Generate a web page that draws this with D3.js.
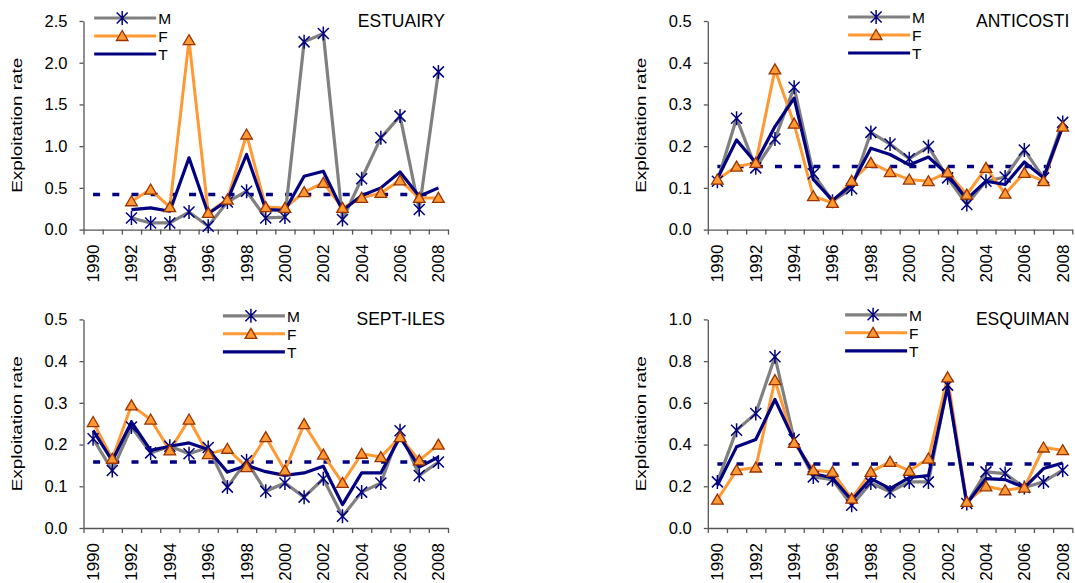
<!DOCTYPE html>
<html><head><meta charset="utf-8">
<script src="https://cdn.jsdelivr.net/npm/d3@7"></script>
<style>
body{margin:0;background:#fff;}
svg{display:block;font-family:"Liberation Sans",Arial,sans-serif;}
</style></head>
<body>
<svg id="chart" width="1075" height="583"></svg>
<script>
const years = d3.range(1990, 2009);
const yearLabels = years.filter(y => y % 2 === 0);
const seriesNames = ["M", "F", "T"];

// ESTUAIRY
const estM = [null,null,0.14,0.08,0.08,0.21,0.04,0.33,0.46,0.14,0.15,2.25,2.35,0.12,0.61,1.10,1.36,0.24,1.89];
const estF = [null,null,0.34,0.48,0.27,2.27,0.20,0.36,1.14,0.27,0.26,0.45,0.56,0.26,0.38,0.44,0.59,0.38,0.38];
const estT = [null,null,0.24,0.26,0.22,0.86,0.19,0.35,0.90,0.24,0.23,0.64,0.70,0.23,0.41,0.50,0.69,0.40,0.50];
const estMean = 0.42;
const estTicks = [0,0.5,1.0,1.5,2.0,2.5];

// ANTICOSTI
const antM = [0.116,0.267,0.148,0.217,0.341,0.134,0.068,0.098,0.233,0.205,0.170,0.199,0.124,0.060,0.116,0.126,0.191,0.124,0.257];
const antF = [0.120,0.151,0.160,0.384,0.254,0.080,0.064,0.117,0.160,0.138,0.120,0.116,0.137,0.084,0.148,0.086,0.136,0.116,0.247];
const antT = [0.122,0.215,0.160,0.247,0.315,0.120,0.070,0.108,0.195,0.180,0.155,0.174,0.132,0.073,0.116,0.108,0.162,0.124,0.247];
const antMean = 0.151;
const antTicks = [0,0.1,0.2,0.3,0.4,0.5];

// SEPT-ILES
const sepM = [0.214,0.138,0.242,0.180,0.196,0.178,0.193,0.098,0.161,0.088,0.108,0.074,0.118,0.028,0.086,0.108,0.233,0.126,0.158];
const sepF = [0.254,0.166,0.294,0.260,0.186,0.260,0.177,0.190,0.146,0.218,0.138,0.249,0.176,0.108,0.178,0.170,0.218,0.162,0.200];
const sepT = [0.234,0.161,0.254,0.186,0.196,0.204,0.188,0.134,0.150,0.135,0.126,0.132,0.148,0.056,0.132,0.132,0.218,0.146,0.170];
const sepMean = 0.158;
const sepTicks = [0,0.1,0.2,0.3,0.4,0.5];

// ESQUIMAN
const esqM = [0.221,0.469,0.549,0.821,0.424,0.245,0.232,0.109,0.216,0.173,0.221,0.221,0.685,0.117,0.269,0.261,0.194,0.221,0.277];
const esqF = [0.136,0.277,0.290,0.709,0.408,0.277,0.269,0.141,0.269,0.317,0.274,0.333,0.722,0.125,0.200,0.181,0.194,0.386,0.373];
const esqT = [0.205,0.389,0.424,0.616,0.420,0.261,0.240,0.133,0.237,0.189,0.242,0.251,0.677,0.117,0.237,0.232,0.194,0.285,0.312];
const esqMean = 0.307;
const esqTicks = [0,0.2,0.4,0.6,0.8,1.0];

const panels = [
  {title:"ESTUAIRY",  M:estM, F:estF, T:estT, mean:estMean, ticks:estTicks, left:83.5,  top:21,    legX:10.7,  legY:-3.0},
  {title:"ANTICOSTI", M:antM, F:antF, T:antT, mean:antMean, ticks:antTicks, left:707.8, top:21,    legX:140.3, legY:-4.0},
  {title:"SEPT-ILES", M:sepM, F:sepF, T:sepT, mean:sepMean, ticks:sepTicks, left:83.5,  top:319.4, legX:139.4, legY:-3.6},
  {title:"ESQUIMAN",  M:esqM, F:esqF, T:esqT, mean:esqMean, ticks:esqTicks, left:707.8, top:319.4, legX:137.3, legY:-4.6}
];

const PW = 364.5, PH = 208.6;
const colM = "#808080", colF = "#FF9933", colT = "#000080", markStroke = "#000080", triStroke = "#993300";
const starPath = "M-5.5,-5.5L5.5,5.5M-5.5,5.5L5.5,-5.5M0,-7L0,7";
const triPath = "M0,-5.5L5.8,4.5L-5.8,4.5Z";

const svg = d3.select("#chart");

panels.forEach(p => {
  const g = svg.append("g");
  const x0 = p.left, x1 = p.left + PW, y0 = p.top, y1 = p.top + PH;
  const band = d3.scaleBand().domain(years).range([x0, x1]).padding(0);
  const cx = d => band(d) + band.bandwidth() / 2;
  const yMax = p.ticks[p.ticks.length - 1];
  const y = d3.scaleLinear().domain([0, yMax]).range([y1, y0]);

  // y axis
  const ya = g.append("g").attr("transform", `translate(${x0},0)`)
    .call(d3.axisLeft(y).tickValues(p.ticks).tickFormat(d3.format(".1f")).tickSize(4).tickSizeOuter(0).tickPadding(12));
  ya.selectAll("path,line").attr("stroke", "#555").attr("stroke-width", 1.3);
  ya.selectAll("text").attr("font-size", 16.5).attr("fill", "#000").attr("font-family", "Liberation Sans, Arial");

  // x axis (ticks at category boundaries)
  const xb = d3.scaleLinear().domain([0, years.length]).range([x0, x1]);
  const xa = g.append("g").attr("transform", `translate(0,${y1})`)
    .call(d3.axisBottom(xb).tickValues(d3.range(0, years.length + 1)).tickSize(5).tickSizeOuter(0).tickFormat(""));
  xa.selectAll("path,line").attr("stroke", "#555").attr("stroke-width", 1.3);

  g.selectAll("text.xl").data(yearLabels).join("text").attr("class", "xl")
    .attr("transform", d => `translate(${cx(d)},${y1 + 15}) rotate(-90)`)
    .attr("text-anchor", "end").attr("dy", "0.35em")
    .attr("font-size", 17).attr("fill", "#000").text(d => d);

  // y title
  g.append("text")
    .attr("transform", `translate(${x0 - 62},${(y0 + y1) / 2}) rotate(-90)`)
    .attr("text-anchor", "middle").attr("font-size", 14.5).attr("fill", "#000")
    .attr("textLength", 135).attr("lengthAdjust", "spacingAndGlyphs")
    .text("Exploitation rate");

  // panel title
  g.append("text").attr("x", x1 - 3).attr("y", y0 + 5.7).attr("text-anchor", "end")
    .attr("font-size", 17.5).attr("fill", "#000").text(p.title);

  // mean dashed line
  g.append("line")
    .attr("x1", cx(years[0])).attr("x2", cx(years[years.length - 1]))
    .attr("y1", y(p.mean)).attr("y2", y(p.mean))
    .attr("stroke", colT).attr("stroke-width", 3.5).attr("stroke-dasharray", "7,12.2");

  const line = d3.line().defined(d => d[1] != null).x(d => cx(d[0])).y(d => y(d[1]));
  const pts = arr => years.map((yr, i) => [yr, arr[i]]);

  g.append("path").datum(pts(p.M)).attr("d", line).attr("fill", "none").attr("stroke", colM).attr("stroke-width", 3.2).attr("stroke-linejoin", "round");
  g.append("path").datum(pts(p.F)).attr("d", line).attr("fill", "none").attr("stroke", colF).attr("stroke-width", 3).attr("stroke-linejoin", "round");
  g.append("path").datum(pts(p.T)).attr("d", line).attr("fill", "none").attr("stroke", colT).attr("stroke-width", 3.2).attr("stroke-linejoin", "round");

  g.selectAll("path.star").data(pts(p.M).filter(d => d[1] != null)).join("path").attr("class", "star")
    .attr("transform", d => `translate(${cx(d[0])},${y(d[1])})`)
    .attr("d", starPath).attr("stroke", markStroke).attr("stroke-width", 1.5).attr("fill", "none");
  g.selectAll("path.tri").data(pts(p.F).filter(d => d[1] != null)).join("path").attr("class", "tri")
    .attr("transform", d => `translate(${cx(d[0])},${y(d[1])})`)
    .attr("d", triPath).attr("stroke", triStroke).attr("stroke-width", 1.3).attr("fill", colF);

  // legend
  const lx = x0 + p.legX, ly = y0 + p.legY, lw = 62, rowH = 18;
  const legendStyles = [
    {color: colM, w: 3.2, mark: "star"},
    {color: colF, w: 3, mark: "tri"},
    {color: colT, w: 3.2, mark: null}
  ];
  seriesNames.forEach((name, i) => {
    const s = legendStyles[i];
    const ry = ly + i * rowH;
    g.append("line").attr("x1", lx).attr("x2", lx + lw).attr("y1", ry).attr("y2", ry)
      .attr("stroke", s.color).attr("stroke-width", s.w);
    if (s.mark === "star") g.append("path").attr("transform", `translate(${lx + lw / 2 - 3},${ry})`).attr("d", starPath).attr("stroke", markStroke).attr("stroke-width", 1.5).attr("fill", "none");
    if (s.mark === "tri") g.append("path").attr("transform", `translate(${lx + lw / 2 - 3},${ry})`).attr("d", triPath).attr("stroke", triStroke).attr("stroke-width", 1.3).attr("fill", colF);
    g.append("text").attr("x", lx + lw + 2).attr("y", ry + 6).attr("font-size", 15.5).attr("fill", "#000").text(name);
  });
});
</script>
</body></html>
